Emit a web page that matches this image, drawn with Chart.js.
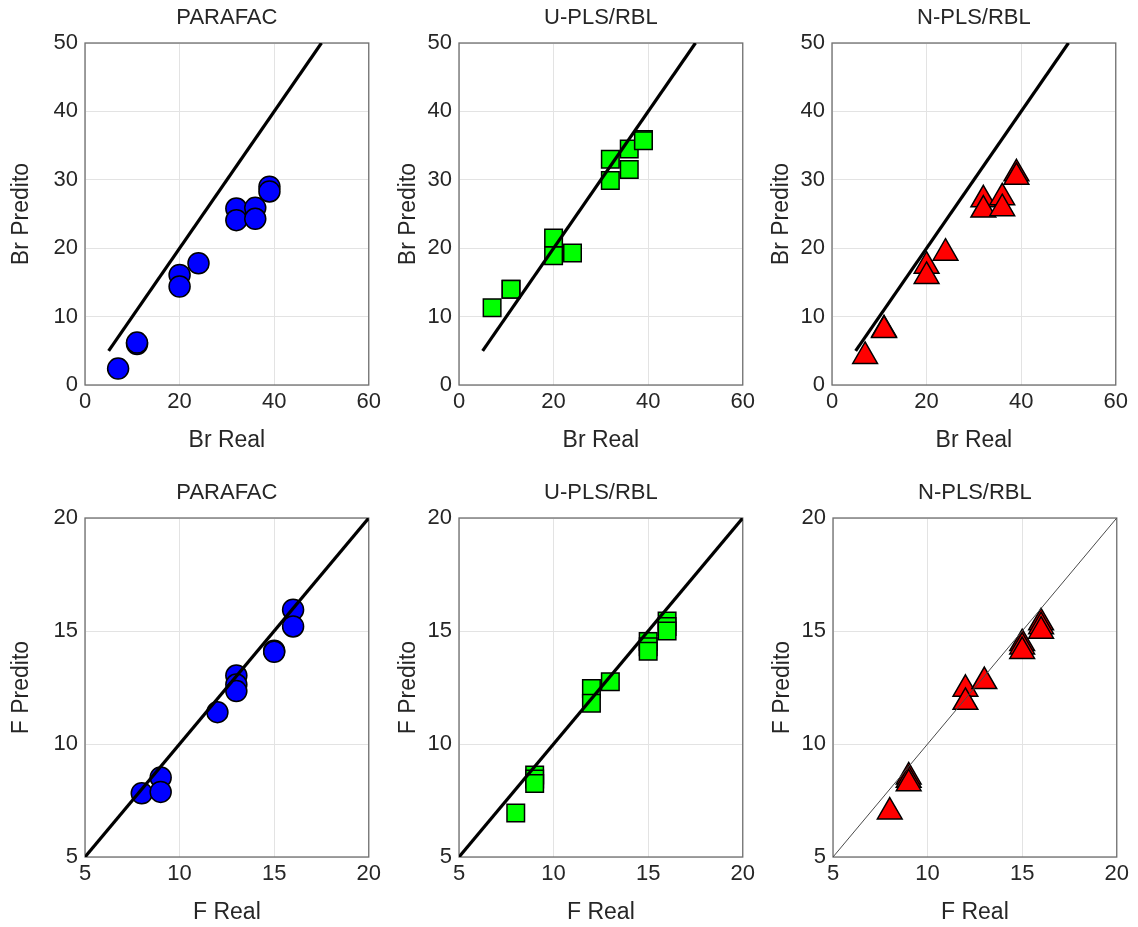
<!DOCTYPE html>
<html>
<head>
<meta charset="utf-8">
<title>Br / F - Real vs Predito</title>
<script src="https://cdn.jsdelivr.net/npm/chart.js@4.4.1/dist/chart.umd.min.js"></script>
<style>
    html, body { margin: 0; padding: 0; background: #fff; overflow: hidden; }
    #wrap { position: relative; width: 1138px; height: 927px; }
    #wrap canvas { position: absolute; }
</style>
</head>
<body>
<div id="wrap">
    <canvas id="brParafac" width="385" height="455" style="left:0px;top:0px"></canvas>
    <canvas id="brUpls" width="385" height="455" style="left:374px;top:0px"></canvas>
    <canvas id="brNpls" width="385" height="455" style="left:747px;top:0px"></canvas>
    <canvas id="fParafac" width="385" height="452" style="left:0px;top:475px"></canvas>
    <canvas id="fUpls" width="385" height="452" style="left:374px;top:475px"></canvas>
    <canvas id="fNpls" width="385" height="452" style="left:748px;top:475px"></canvas>
</div>
<script>
// Br (top row)
const brReal = [7, 11, 11, 20, 20, 24, 32, 32, 36, 36, 39, 39];
const brParafac = [2.4, 6.0, 6.2, 16.1, 14.4, 17.8, 25.8, 24.1, 25.9, 24.3, 29.0, 28.3];
const brUpls = [11.3, 14.0, 14.0, 21.5, 18.9, 19.3, 33.0, 29.9, 34.5, 31.5, 35.9, 35.7];
const brNpls = [4.2, 8.1, 8.0, 17.4, 15.9, 19.3, 27.1, 25.6, 27.4, 25.8, 30.9, 30.4];

// F (bottom row)
const fRealParafac = [8, 9, 9, 12, 13, 13, 13, 15, 15, 16, 16];
const fParafac = [7.82, 8.52, 7.88, 11.41, 13.03, 12.63, 12.34, 14.13, 14.08, 15.94, 15.2];
const fRealPls = [8, 9, 9, 9, 12, 12, 13, 15, 15, 15, 16, 16, 16];
const fUpls = [6.95, 8.63, 8.45, 8.25, 12.45, 11.8, 12.75, 14.54, 14.3, 14.1, 15.44, 15.2, 15.0];
const fNpls = [7.0, 8.55, 8.4, 8.25, 12.43, 11.85, 12.77, 14.45, 14.3, 14.1, 15.37, 15.2, 15.0];

// reference line y = x
const brRefLine = [5, 50];
const fRefLine = [5, 20];

// tick labels
const brRealTicks = [0, 20, 40, 60];
const brPredTicks = [0, 10, 20, 30, 40, 50];
const fTicks = [5, 10, 15, 20];

const TEXT = "#262626";
const FONT = "'Liberation Sans', Arial, Helvetica, sans-serif";

// draws the full box around the plot area (matlab "box on")
const boxPlugin = {
    id: "box",
    beforeDatasetsDraw(chart) {
        const a = chart.chartArea;
        const ctx = chart.ctx;
        ctx.save();
        ctx.strokeStyle = "#6f6f6f";
        ctx.lineWidth = 1.3;
        ctx.strokeRect(a.left, a.top, a.right - a.left, a.bottom - a.top);
        ctx.restore();
    },
};

function axis(ticks, title, size, titlePad) {
    return {
        type: "linear",
        min: ticks[0],
        max: ticks[ticks.length - 1],
        afterBuildTicks: (s) => { s.ticks = ticks.map((v) => ({ value: v })); },
        afterFit: (s) => {
            if (s.isHorizontal()) s.height = size;
            else s.width = size;
        },
        grid: { color: "#e3e3e3", lineWidth: 1, drawTicks: false },
        border: { display: false },
        ticks: {
            color: TEXT,
            padding: 0,
            font: { family: FONT, size: 22 },
        },
        title: {
            display: true,
            text: title,
            color: TEXT,
            font: { family: FONT, size: 23 },
            padding: titlePad,
        },
    };
}

function makePanel(id, cfg) {
    const ctx = document.getElementById(id).getContext("2d");
    const points = cfg.x.map((v, i) => ({ x: v, y: cfg.y[i] }));
    const line = cfg.ref.map((v) => ({ x: v, y: v }));

    const xAxis = axis(cfg.xTicks, cfg.xTitle, 70, { top: 0, bottom: 1 });
    xAxis.ticks.padding = 4;
    const yAxis = axis(cfg.yTicks, cfg.yTitle, 85, { top: cfg.yTitlePad, bottom: 0 });
    yAxis.ticks.padding = 7;

    return new Chart(ctx, {
        type: "scatter",
        data: {
            datasets: [
                {
                    type: "line",
                    data: line,
                    borderColor: cfg.lineColor || "#000",
                    borderWidth: cfg.lineWidth || 3.2,
                    pointRadius: 0,
                    fill: false,
                },
                {
                    data: points,
                    pointStyle: cfg.marker,
                    pointRadius: cfg.radius,
                    pointBackgroundColor: cfg.color,
                    pointBorderColor: "#000",
                    pointBorderWidth: 1.5,
                },
            ],
        },
        options: {
            responsive: false,
            animation: false,
            layout: { padding: { left: 0, right: 16, top: 0, bottom: 0 } },
            plugins: {
                legend: { display: false },
                tooltip: { enabled: false },
                title: {
                    display: true,
                    text: cfg.title,
                    color: TEXT,
                    fullSize: false,
                    font: { family: FONT, size: 22, weight: "normal" },
                    padding: { top: 4.8, bottom: 11.8 },
                },
            },
            scales: { x: xAxis, y: yAxis },
        },
        plugins: [boxPlugin],
    });
}

const circle = { marker: "circle", radius: 10.5, color: "#0000ff" };
const square = { marker: "rect", radius: 12.4, color: "#00ff00" };
const triangle = { marker: "triangle", radius: 14.3, color: "#ff0000" };

const brAxes = { xTicks: brRealTicks, yTicks: brPredTicks, xTitle: "Br Real", yTitle: "Br Predito", ref: brRefLine };
const fAxes = { xTicks: fTicks, yTicks: fTicks, xTitle: "F Real", yTitle: "F Predito", ref: fRefLine };

makePanel("brParafac", { ...brAxes, ...circle, title: "PARAFAC", x: brReal, y: brParafac, yTitlePad: 8 });
makePanel("brUpls", { ...brAxes, ...square, title: "U-PLS/RBL", x: brReal, y: brUpls, yTitlePad: 21 });
makePanel("brNpls", { ...brAxes, ...triangle, title: "N-PLS/RBL", x: brReal, y: brNpls, yTitlePad: 21 });

makePanel("fParafac", { ...fAxes, ...circle, title: "PARAFAC", x: fRealParafac, y: fParafac, yTitlePad: 8 });
makePanel("fUpls", { ...fAxes, ...square, title: "U-PLS/RBL", x: fRealPls, y: fUpls, yTitlePad: 21 });
makePanel("fNpls", {
    ...fAxes, ...triangle, title: "N-PLS/RBL", x: fRealPls, y: fNpls, yTitlePad: 21,
    lineColor: "#4a4a4a", lineWidth: 1,
});
</script>
</body>
</html>
